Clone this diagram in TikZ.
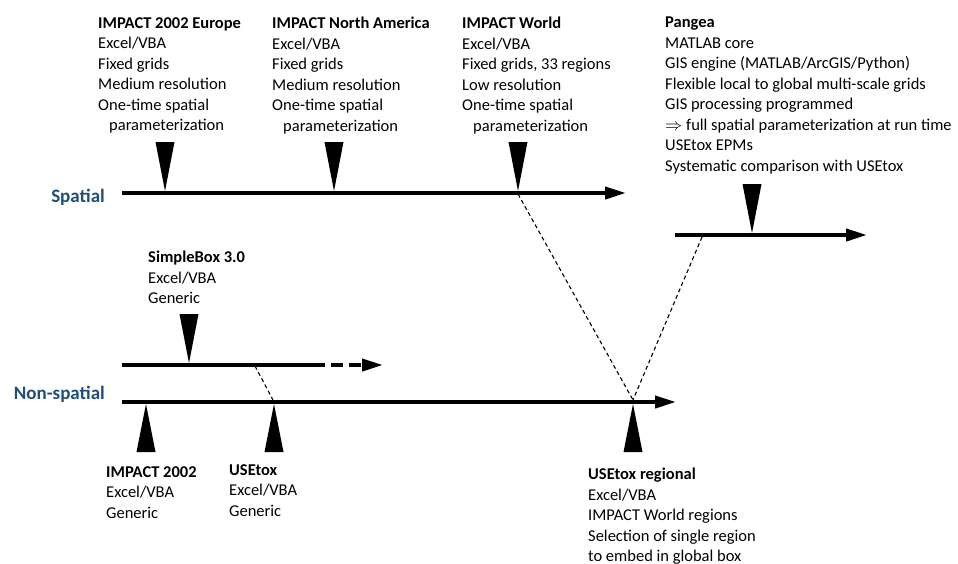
\documentclass[tikz,border=0pt]{standalone}
\usepackage{fontspec}
\setmainfont{Carlito}
\usetikzlibrary{arrows.meta}
\definecolor{axisblue}{RGB}{31,78,121}

\begin{document}
\begin{tikzpicture}[x=1pt, y=-1pt,
  timeline/.style = {line width=4pt, -{Triangle[length=21pt,width=12pt]}},
  link/.style = {line width=1.1pt, dash pattern=on 4pt off 3pt},
  info/.style = {anchor=north west, inner sep=0pt, align=left, font=\fontsize{16.5}{20.5}\selectfont},
  axislabel/.style = {anchor=base east, inner sep=0pt, text=axisblue, font=\fontsize{19}{23}\selectfont\bfseries}]
\useasboundingbox (0,0) rectangle (958,563);

%axes
\node[axislabel] (spatial) at (105,202) {Spatial};
\node[axislabel] (nonspatial) at (105,399) {Non-spatial};

\coordinate (s0) at (122,193);  \coordinate (s1) at (626,193);
\coordinate (p0) at (675,235);  \coordinate (p1) at (867,235);
\coordinate (b0) at (122,365);  \coordinate (b1) at (325,365);  \coordinate (b2) at (383,365);
\coordinate (n0) at (122,402);  \coordinate (n1) at (676,402);

\draw[timeline] (s0) -- (s1);
\draw[timeline] (p0) -- (p1);
\draw[line width=4pt] (b0) -- (b1);
\draw[timeline, dash pattern=on 12pt off 6pt, dash phase=12pt] (b1) -- (b2);
\draw[timeline] (n0) -- (n1);

%markers
\coordinate (eu) at (165,191);
\coordinate (na) at (334,191);
\coordinate (wo) at (518,191);
\coordinate (pa) at (752,233);
\coordinate (sb) at (189,363);
\coordinate (im) at (146,404);
\coordinate (ut) at (274,404);
\coordinate (ur) at (633,404);
\foreach \p in {eu,na,wo,pa,sb} {\fill (\p) -- ++(-9.5,-49) -- ++(19,0) -- cycle;}
\foreach \p in {im,ut,ur} {\fill (\p) -- ++(-9.5,48) -- ++(19,0) -- cycle;}

%links
\coordinate (wo1) at (518,194);
\coordinate (pa1) at (702,237);
\coordinate (sb1) at (255,366);
\coordinate (ur1) at (633,400);
\coordinate (ut1) at (273,400);
\draw[link] (wo1) -- (ur1);
\draw[link] (pa1) -- (ur1);
\draw[link] (sb1) -- (ut1);

%models
\node[info] (europe) at (98,17) {\textbf{IMPACT 2002 Europe}\\Excel/VBA\\Fixed grids\\Medium resolution\\One-time spatial\\\hspace*{11pt}parameterization};
\node[info] (namerica) at (272,17) {\textbf{IMPACT North America}\\Excel/VBA\\Fixed grids\\Medium resolution\\One-time spatial\\\hspace*{11pt}parameterization};
\node[info] (world) at (462,17) {\textbf{IMPACT World}\\Excel/VBA\\Fixed grids, 33 regions\\Low resolution\\One-time spatial\\\hspace*{11pt}parameterization};
\node[info] (pangea) at (665,17) {\textbf{Pangea}\\MATLAB core\\GIS engine (MATLAB/ArcGIS/Python)\\Flexible local to global multi-scale grids\\GIS processing programmed\\$\Rightarrow$ full spatial parameterization at run time\\USEtox EPMs\\Systematic comparison with USEtox};
\node[info] (simplebox) at (148,251) {\textbf{SimpleBox 3.0}\\Excel/VBA\\Generic};
\node[info] (impact) at (106,466) {\textbf{IMPACT 2002}\\Excel/VBA\\Generic};
\node[info] (usetox) at (229,464) {\textbf{USEtox}\\Excel/VBA\\Generic};
\node[info] (regional) at (588,468) {\textbf{USEtox regional}\\Excel/VBA\\IMPACT World regions\\Selection of single region\\to embed in global box};

\end{tikzpicture}
\end{document}
